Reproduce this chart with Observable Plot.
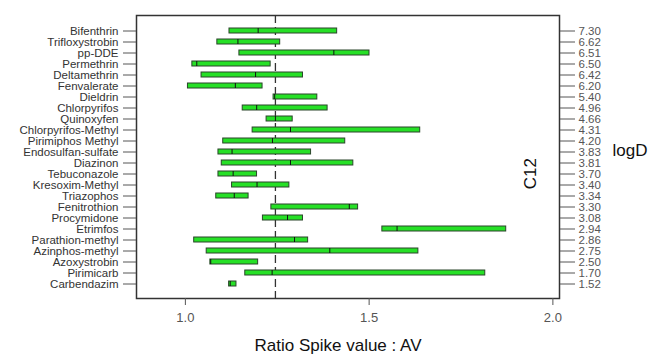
<!DOCTYPE html>
<html>
<head>
<meta charset="utf-8">
<script src="https://cdn.jsdelivr.net/npm/d3@7"></script>
<script src="https://cdn.jsdelivr.net/npm/@observablehq/plot@0.6"></script>
<style>
  html, body { margin: 0; padding: 0; background: white; }
</style>
</head>
<body>
<div id="chart"></div>
<script>
const compounds = ["Bifenthrin","Trifloxystrobin","pp-DDE","Permethrin","Deltamethrin","Fenvalerate","Dieldrin","Chlorpyrifos","Quinoxyfen","Chlorpyrifos-Methyl","Pirimiphos Methyl","Endosulfan-sulfate","Diazinon","Tebuconazole","Kresoxim-Methyl","Triazophos","Fenitrothion","Procymidone","Etrimfos","Parathion-methyl","Azinphos-methyl","Azoxystrobin","Pirimicarb","Carbendazim"];
const lowValues    = [1.120,1.087,1.147,1.019,1.044,1.007,1.240,1.156,1.221,1.183,1.103,1.090,1.099,1.090,1.127,1.084,1.234,1.211,1.536,1.024,1.058,1.068,1.163,1.119];
const medianValues = [1.198,1.143,1.404,1.031,1.191,1.136,1.243,1.194,1.245,1.286,1.237,1.127,1.286,1.130,1.195,1.133,1.446,1.278,1.576,1.297,1.393,1.069,1.236,1.122];
const highValues   = [1.413,1.258,1.501,1.232,1.320,1.210,1.359,1.387,1.292,1.639,1.435,1.342,1.457,1.195,1.283,1.172,1.470,1.320,1.873,1.334,1.634,1.198,1.816,1.139];
const logD = ["7.30","6.62","6.51","6.50","6.42","6.20","5.40","4.96","4.66","4.31","4.20","3.83","3.81","3.70","3.40","3.34","3.30","3.08","2.94","2.86","2.75","2.50","1.70","1.52"];
const referenceLine = [1.245];
const xTicks = [1.0, 1.5, 2.0];

const data = compounds.map((name, i) => ({name, lo: lowValues[i], med: medianValues[i], hi: highValues[i]}));

const chart = Plot.plot({
  width: 653,
  height: 359,
  marginLeft: 136,
  marginRight: 94,
  marginTop: 15,
  marginBottom: 61,
  style: {fontFamily: "'Liberation Sans', Arial, sans-serif", background: "white", color: "#333"},
  x: {domain: [0.867, 2.018]},
  y: {type: "band", domain: compounds, paddingInner: 0.55, paddingOuter: 0.75},
  marks: [
    Plot.ruleX(referenceLine, {stroke: "#333", strokeWidth: 1.3, strokeDasharray: "8,4"}),
    Plot.barX(data, {x1: "lo", x2: "hi", y: "name", fill: "#26e026", stroke: "#2b452b", strokeWidth: 1}),
    Plot.tickX(data, {x: "med", y: "name", stroke: "#111", strokeWidth: 1}),
    Plot.frame({stroke: "#333", strokeWidth: 1.5}),
    Plot.axisY({anchor: "left", tickSize: 13, tickPadding: 5, label: null, fontSize: 11.5, stroke: "#555", fill: "#333"}),
    Plot.axisY({anchor: "right", tickSize: 15, tickPadding: 4, label: null, fontSize: 11.5, stroke: "#555", fill: "#555",
      tickFormat: d => logD[compounds.indexOf(d)]}),
    Plot.axisX({ticks: xTicks, tickFormat: d3.format(".1f"), tickSize: 7, tickPadding: 7, label: null, fontSize: 13, stroke: "#555", fill: "#555"}),
    Plot.text(["C12"], {frameAnchor: "right", dx: -29, dy: 1, rotate: -90, fontSize: 17, fill: "#111"}),
    Plot.text(["logD"], {frameAnchor: "right", dx: 53, dy: -6, textAnchor: "start", fontSize: 17, fill: "#111"}),
    Plot.text(["Ratio Spike value : AV"], {frameAnchor: "bottom", dx: -10, dy: 52, fontSize: 17, fill: "#111"})
  ]
});
document.getElementById("chart").append(chart);
</script>
</body>
</html>
